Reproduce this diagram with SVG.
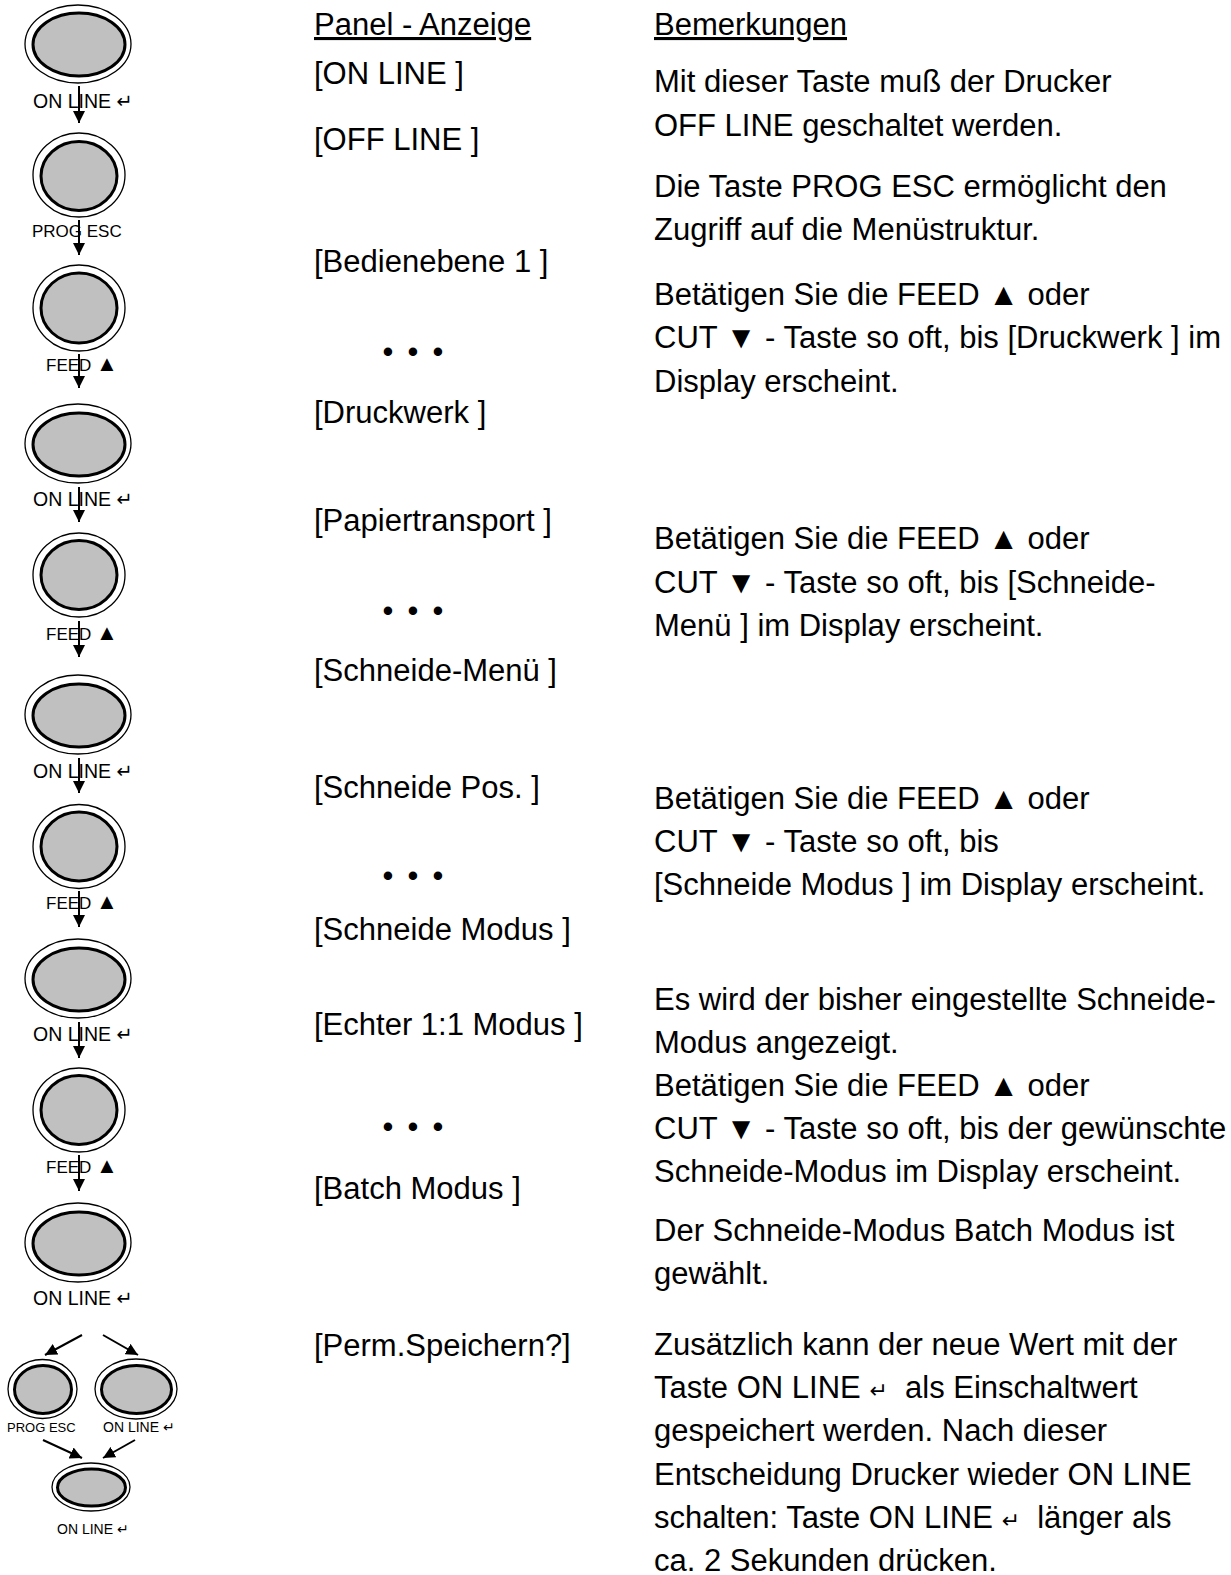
<svg xmlns="http://www.w3.org/2000/svg" width="1231" height="1575" viewBox="0 0 1231 1575">
<defs>
<marker id="ah" markerWidth="12" markerHeight="12" viewBox="0 0 12 12" refX="12" refY="6" orient="auto" markerUnits="userSpaceOnUse">
<path d="M0,0 L12,6 L0,12 Z" fill="#000"/>
</marker>
<style>
text{font-family:"Liberation Sans","DejaVu Sans",sans-serif;fill:#000;white-space:pre}
.t{font-size:31px}
.h{font-size:31px;text-decoration:underline}
.lb{font-size:19.5px}
.ls{font-size:17px}
.lx{font-size:14px}
.lxs{font-size:13px}
.tri{font-size:22px}
.ret{font-size:22px}
.o{fill:#fff;stroke:#000;stroke-width:1.3}
.i{fill:#c0c0c0;stroke:#000;stroke-width:3}
.c{stroke:#000;stroke-width:2;fill:none;marker-end:url(#ah)}
</style>
</defs>
<rect width="1231" height="1575" fill="#fff"/>

<g id="btn1"><ellipse class="o" cx="78" cy="44" rx="53" ry="39"/><ellipse class="i" cx="79" cy="44.5" rx="46" ry="31.5"/><text class="lb" x="33" y="108">ON LINE ↵</text></g>
<g id="btn2"><ellipse class="o" cx="79" cy="175" rx="46" ry="42"/><ellipse class="i" cx="79" cy="176" rx="38" ry="34.5"/><text class="ls" x="32" y="237">PROG ESC</text></g>
<g id="btn3"><ellipse class="o" cx="79" cy="308" rx="46" ry="43"/><ellipse class="i" cx="79" cy="308" rx="38" ry="35"/><text class="ls" x="46" y="371">FEED <tspan class="tri">▲</tspan></text></g>
<g id="btn4"><ellipse class="o" cx="78" cy="443.5" rx="53" ry="39.5"/><ellipse class="i" cx="79" cy="444.5" rx="46" ry="31.5"/><text class="lb" x="33" y="506">ON LINE ↵</text></g>
<g id="btn5"><ellipse class="o" cx="79" cy="575" rx="46" ry="42"/><ellipse class="i" cx="79" cy="575" rx="38" ry="34.5"/><text class="ls" x="46" y="640">FEED <tspan class="tri">▲</tspan></text></g>
<g id="btn6"><ellipse class="o" cx="78" cy="714.5" rx="53" ry="39.5"/><ellipse class="i" cx="79" cy="715.5" rx="46" ry="31.5"/><text class="lb" x="33" y="778">ON LINE ↵</text></g>
<g id="btn7"><ellipse class="o" cx="79" cy="846.5" rx="46" ry="42"/><ellipse class="i" cx="79" cy="846.5" rx="38" ry="34.5"/><text class="ls" x="46" y="909">FEED <tspan class="tri">▲</tspan></text></g>
<g id="btn8"><ellipse class="o" cx="78" cy="978.5" rx="53" ry="39.5"/><ellipse class="i" cx="79" cy="979.5" rx="46" ry="31.5"/><text class="lb" x="33" y="1041">ON LINE ↵</text></g>
<g id="btn9"><ellipse class="o" cx="79" cy="1110" rx="46" ry="42"/><ellipse class="i" cx="79" cy="1110" rx="38" ry="34.5"/><text class="ls" x="46" y="1173">FEED <tspan class="tri">▲</tspan></text></g>
<g id="btn10"><ellipse class="o" cx="78" cy="1242.5" rx="53" ry="39.5"/><ellipse class="i" cx="79" cy="1243.5" rx="46" ry="31.5"/><text class="lb" x="33" y="1305">ON LINE ↵</text></g>
<g id="btn11"><ellipse class="o" cx="42.5" cy="1389" rx="34.5" ry="29.5"/><ellipse class="i" cx="43" cy="1389.5" rx="28.5" ry="24"/><text class="lxs" x="7" y="1432">PROG ESC</text></g>
<g id="btn12"><ellipse class="o" cx="136" cy="1389" rx="41" ry="30"/><ellipse class="i" cx="136.5" cy="1389.5" rx="35" ry="24"/><text class="lx" x="103" y="1432">ON LINE ↵</text></g>
<g id="btn13"><ellipse class="o" cx="91" cy="1487" rx="39" ry="24"/><ellipse class="i" cx="91.5" cy="1487.5" rx="34" ry="18.5"/><text class="lx" x="57" y="1534">ON LINE ↵</text></g>

<g id="connectors">
<line class="c" x1="79" y1="86" x2="79" y2="123"/>
<line class="c" x1="79" y1="220" x2="79" y2="255"/>
<line class="c" x1="79" y1="354" x2="79" y2="388"/>
<line class="c" x1="79" y1="487" x2="79" y2="522"/>
<line class="c" x1="79" y1="621" x2="79" y2="657"/>
<line class="c" x1="79" y1="758" x2="79" y2="793"/>
<line class="c" x1="79" y1="891" x2="79" y2="927"/>
<line class="c" x1="79" y1="1022" x2="79" y2="1058"/>
<line class="c" x1="79" y1="1155" x2="79" y2="1191"/>
<line class="c" x1="82" y1="1335" x2="45" y2="1355"/>
<line class="c" x1="103" y1="1335" x2="138" y2="1355"/>
<line class="c" x1="43" y1="1440" x2="82" y2="1458"/>
<line class="c" x1="135" y1="1440" x2="103" y2="1458"/>
</g>

<g id="panel">
<text class="h" x="314" y="35">Panel - Anzeige</text>
<text class="t" x="314" y="84">[ON LINE ]</text>
<text class="t" x="314" y="150">[OFF LINE ]</text>
<text class="t" x="314" y="272">[Bedienebene 1 ]</text>
<text class="t" x="382.6" y="362" word-spacing="5.5">• • •</text>
<text class="t" x="314" y="423">[Druckwerk ]</text>
<text class="t" x="314" y="531">[Papiertransport ]</text>
<text class="t" x="382.6" y="621" word-spacing="5.5">• • •</text>
<text class="t" x="314" y="681">[Schneide-Menü ]</text>
<text class="t" x="314" y="798">[Schneide Pos. ]</text>
<text class="t" x="382.6" y="886" word-spacing="5.5">• • •</text>
<text class="t" x="314" y="940">[Schneide Modus ]</text>
<text class="t" x="314" y="1035">[Echter 1:1 Modus ]</text>
<text class="t" x="382.6" y="1137" word-spacing="5.5">• • •</text>
<text class="t" x="314" y="1199">[Batch Modus ]</text>
<text class="t" x="314" y="1356">[Perm.Speichern?]</text>
</g>

<g id="remarks">
<text class="h" x="654" y="35">Bemerkungen</text>
<text class="t" x="654" y="92">Mit dieser Taste muß der Drucker</text>
<text class="t" x="654" y="136">OFF LINE geschaltet werden.</text>
<text class="t" x="654" y="197">Die Taste PROG ESC ermöglicht den</text>
<text class="t" x="654" y="240">Zugriff auf die Menüstruktur.</text>
<text class="t" x="654" y="305">Betätigen Sie die FEED ▲ oder</text>
<text class="t" x="654" y="348">CUT ▼ - Taste so oft, bis [Druckwerk ] im</text>
<text class="t" x="654" y="392">Display erscheint.</text>
<text class="t" x="654" y="549">Betätigen Sie die FEED ▲ oder</text>
<text class="t" x="654" y="593">CUT ▼ - Taste so oft, bis [Schneide-</text>
<text class="t" x="654" y="636">Menü ] im Display erscheint.</text>
<text class="t" x="654" y="809">Betätigen Sie die FEED ▲ oder</text>
<text class="t" x="654" y="852">CUT ▼ - Taste so oft, bis</text>
<text class="t" x="654" y="895">[Schneide Modus ] im Display erscheint.</text>
<text class="t" x="654" y="1010">Es wird der bisher eingestellte Schneide-</text>
<text class="t" x="654" y="1053">Modus angezeigt.</text>
<text class="t" x="654" y="1096">Betätigen Sie die FEED ▲ oder</text>
<text class="t" x="654" y="1139">CUT ▼ - Taste so oft, bis der gewünschte</text>
<text class="t" x="654" y="1182">Schneide-Modus im Display erscheint.</text>
<text class="t" x="654" y="1241">Der Schneide-Modus Batch Modus ist</text>
<text class="t" x="654" y="1284">gewählt.</text>
<text class="t" x="654" y="1355">Zusätzlich kann der neue Wert mit der</text>
<text class="t" x="654" y="1398">Taste ON LINE <tspan class="ret">↵</tspan>  als Einschaltwert</text>
<text class="t" x="654" y="1441">gespeichert werden. Nach dieser</text>
<text class="t" x="654" y="1485">Entscheidung Drucker wieder ON LINE</text>
<text class="t" x="654" y="1528">schalten: Taste ON LINE <tspan class="ret">↵</tspan>  länger als</text>
<text class="t" x="654" y="1571">ca. 2 Sekunden drücken.</text>
</g>
</svg>
